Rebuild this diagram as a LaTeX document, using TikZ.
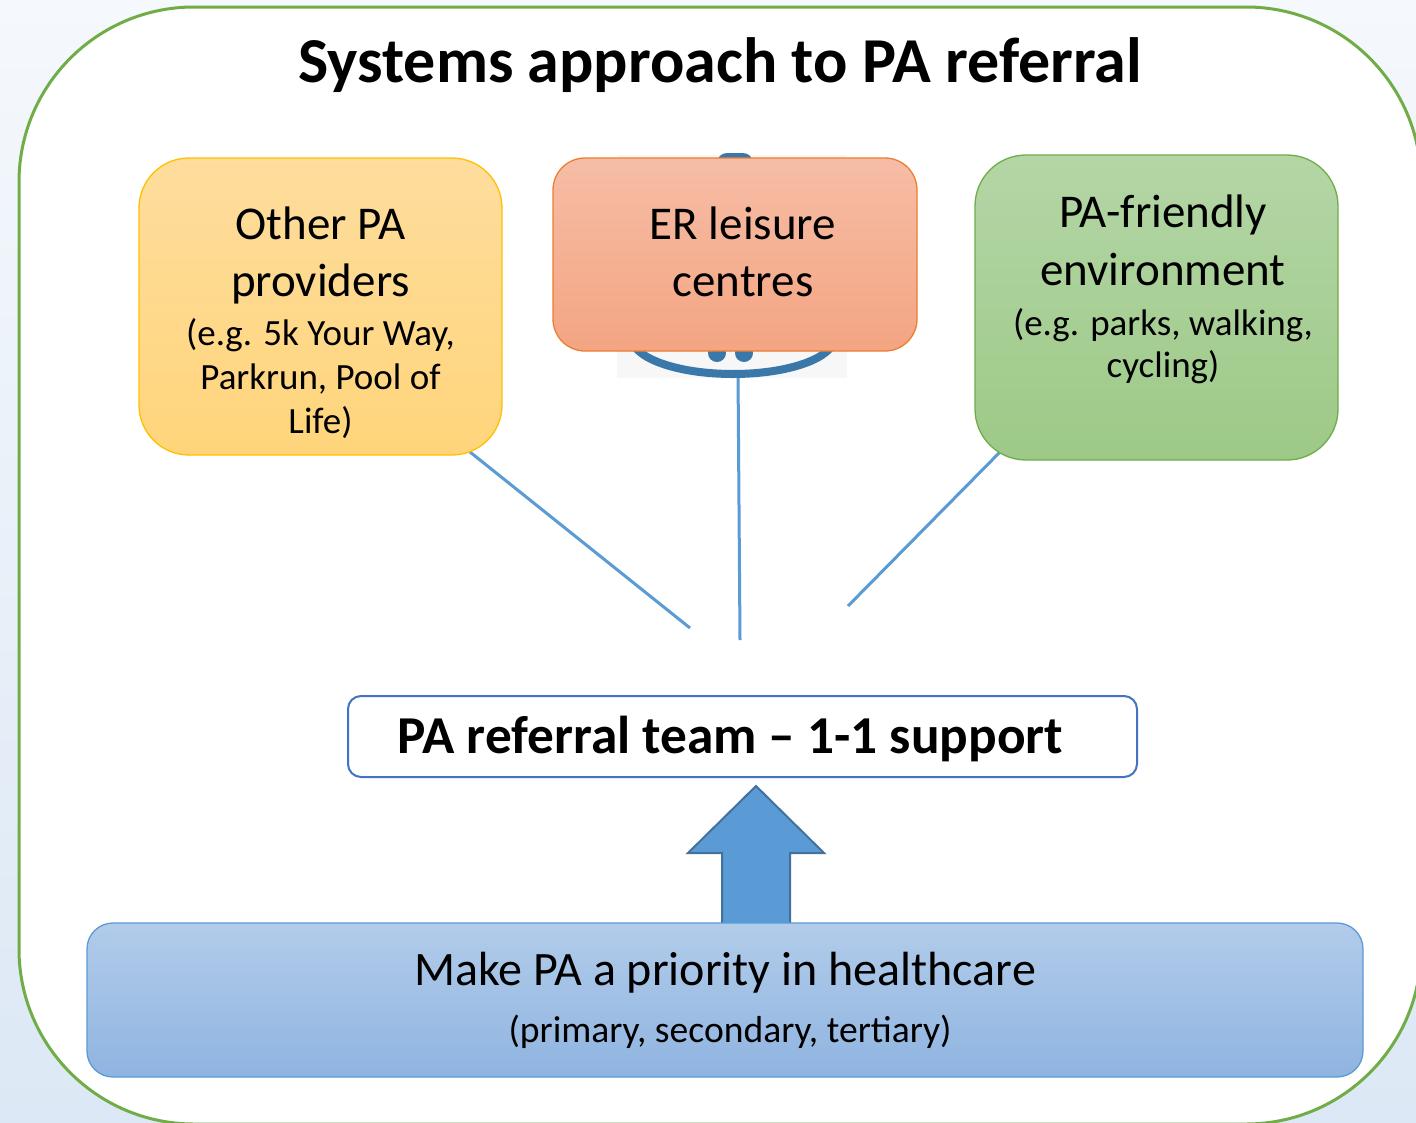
\documentclass[tikz,border=0pt]{standalone}
\usepackage{fontspec}
\setmainfont{Carlito}
\usetikzlibrary{calc,patterns}

\definecolor{bgtop}{HTML}{F5F8FC}
\definecolor{bgbot}{HTML}{DCE8F5}
\definecolor{framegreen}{HTML}{70AD47}
\definecolor{orA}{HTML}{FEDD9D}
\definecolor{orB}{HTML}{FFD57B}
\definecolor{orLine}{HTML}{FFC000}
\definecolor{erA}{HTML}{F6BDA6}
\definecolor{erB}{HTML}{F4A582}
\definecolor{erLine}{HTML}{ED7D31}
\definecolor{grA}{HTML}{B4D6A6}
\definecolor{grB}{HTML}{9DC987}
\definecolor{grLine}{HTML}{70AD47}
\definecolor{blA}{HTML}{B2CCEA}
\definecolor{blB}{HTML}{8FB4E0}
\definecolor{blLine}{HTML}{5B9BD5}
\definecolor{teamLine}{HTML}{4472C4}
\definecolor{arrFill}{HTML}{5B9BD5}
\definecolor{arrLine}{HTML}{41719C}
\definecolor{logoblue}{HTML}{3B78AA}

\tikzset{
  box/.style={rectangle, inner sep=0pt, line width=1.3pt},
  link/.style={draw=blLine, line width=3pt},
  bigtxt/.style={font=\fontsize{47}{56}\selectfont, anchor=base, inner sep=0pt},
  smalltxt/.style={font=\fontsize{37}{44}\selectfont, anchor=base, inner sep=0pt},
}

\begin{document}
\begin{tikzpicture}[x=1pt,y=-1pt]
\useasboundingbox (0,0) rectangle (1416,1122);
\clip (0,0) rectangle (1416,1122);

% page background
\shade[top color=bgtop, bottom color=bgbot] (0,0) rectangle (1416,1122);

% outer frame
\node[box, draw=framegreen, line width=3pt, fill=white, rounded corners=175pt,
      minimum width=1402pt, minimum height=1117pt] (frame) at (720,565.5) {};

% title
\node[font=\bfseries\fontsize{64}{77}\selectfont, anchor=base, inner sep=0pt]
  (title) at (720,82) {Systems approach to PA referral};

% connector end points
\coordinate (c1a) at (470,452);
\coordinate (c1b) at (690,628);
\coordinate (c2a) at (738,372);
\coordinate (c2b) at (740,640);
\coordinate (c3a) at (1000,452);
\coordinate (c3b) at (848,606);
\draw[link] (c1a) -- (c1b);
\draw[link] (c2a) -- (c2b);
\draw[link] (c3a) -- (c3b);

% leisure centre logo behind the box
\node[rectangle, inner sep=0pt, fill=black!3, minimum width=230pt, minimum height=223pt]
  (logobg) at (732,266.5) {};
\node[rectangle, rounded corners=10pt, fill=logoblue, inner sep=0pt,
      minimum width=36pt, minimum height=20pt] (logoknob) at (735,163) {};
\draw[logoblue, line width=8pt] (733,338) ellipse [x radius=101, y radius=36];
\fill[logoblue] (717,353) circle [radius=9];
\fill[logoblue] (744,353) circle [radius=9];

% provider boxes
\node[box, draw=orLine, top color=orA, bottom color=orB, rounded corners=50pt,
      minimum width=363pt, minimum height=297pt] (other) at (320.5,306.5) {};
\node[box, draw=erLine, top color=erA, bottom color=erB, rounded corners=32pt,
      minimum width=364pt, minimum height=193pt] (er) at (735,254.5) {};
\node[box, draw=grLine, top color=grA, bottom color=grB, rounded corners=51pt,
      minimum width=363pt, minimum height=305pt] (green) at (1156.5,307.5) {};

\node[bigtxt] (o1) at (320.5,239) {Other PA};
\node[bigtxt] (o2) at (320.5,296) {providers};
\node[smalltxt] (o3) at (320.5,345) {(e.g. 5k Your Way,};
\node[smalltxt] (o4) at (320.5,389) {Parkrun, Pool of};
\node[smalltxt] (o5) at (320.5,433) {Life)};

\node[bigtxt] (e1) at (743,239) {ER leisure};
\node[bigtxt] (e2) at (743,296) {centres};

\node[bigtxt] (g1) at (1163,227) {PA-friendly};
\node[bigtxt] (g2) at (1163,285) {environment};
\node[smalltxt] (g3) at (1163,335) {(e.g. parks, walking,};
\node[smalltxt] (g4) at (1163,377) {cycling)};

% referral team
\node[box, draw=teamLine, line width=2pt, fill=white, rounded corners=13pt,
      minimum width=789pt, minimum height=81pt] (team) at (742.5,736.5) {};
\node[font=\bfseries\fontsize{53.3}{64}\selectfont, anchor=base, inner sep=0pt]
  (teamtxt) at (730.5,753) {PA referral team -- 1-1 support};

% block arrow from healthcare up to the team
\draw[fill=arrFill, draw=arrLine, line width=2pt, line join=miter]
  (756,786) -- (824,853) -- (790,853) -- (790,925) -- (722,925) -- (722,853) -- (688,853) -- cycle;

% healthcare box
\node[box, draw=blLine, top color=blA, bottom color=blB, rounded corners=26pt,
      minimum width=1276pt, minimum height=154pt] (health) at (725,1000) {};
\node[bigtxt, font=\fontsize{48}{57}\selectfont] (h1) at (725,985) {Make PA a priority in healthcare};
\node[smalltxt, font=\fontsize{37.6}{45}\selectfont] (h2) at (730,1042) {(primary, secondary, tertiary)};
\end{tikzpicture}
\end{document}
